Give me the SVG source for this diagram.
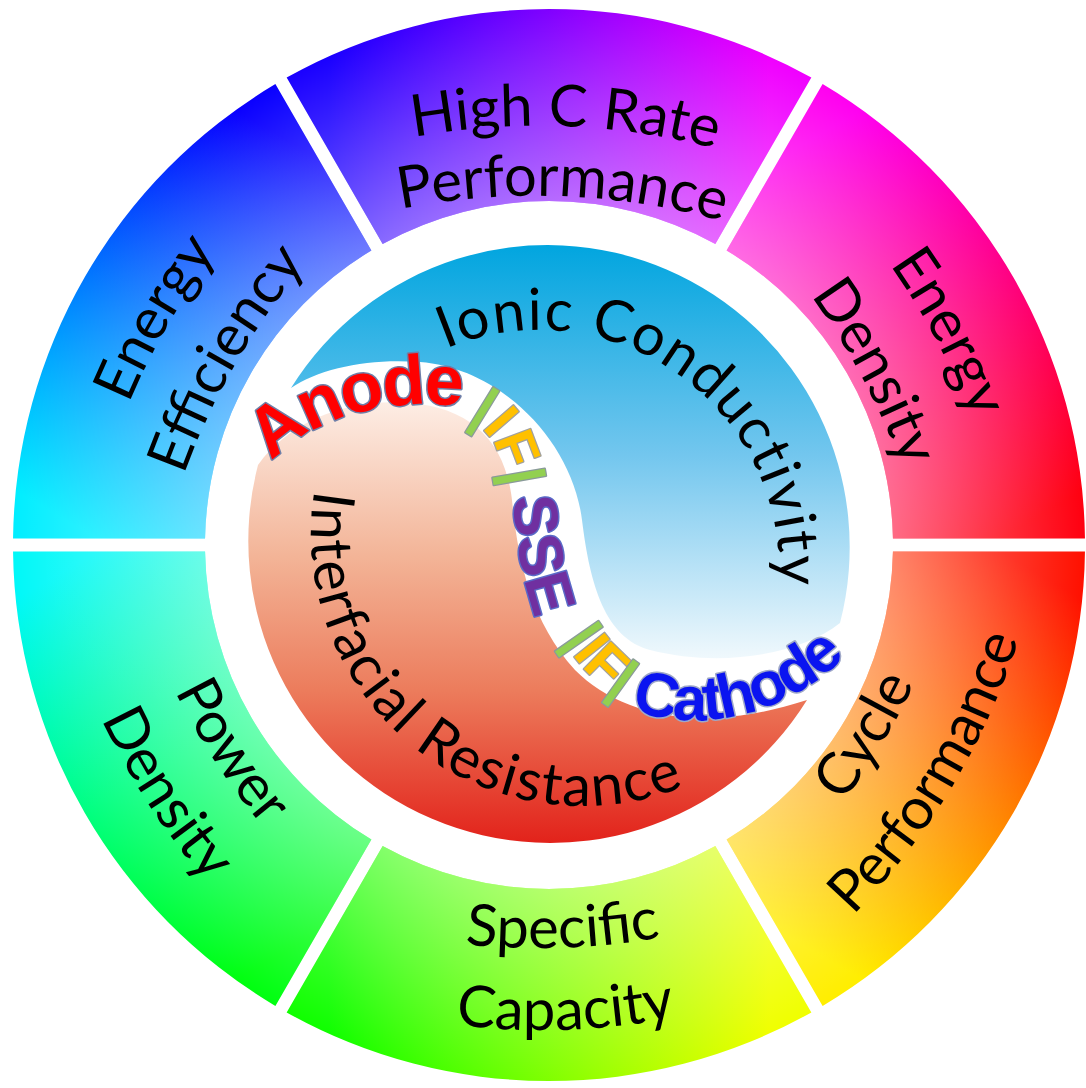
<svg xmlns="http://www.w3.org/2000/svg" width="1086" height="1088" viewBox="0 0 1086 1088">
  <defs>
    <style>
      .lbl { font-family: Lato, "Open Sans", "Liberation Sans", sans-serif; font-size: 58px; fill: #000; }
      .core { font-family: "Liberation Sans", Arial, sans-serif; font-weight: bold; paint-order: stroke; stroke-linejoin: round; }
      .anode { fill: #ff0000; stroke: #6f7fa8; stroke-width: 3; font-size: 70px; letter-spacing: -3px; }
      .bar { fill: #92d050; stroke: #8a9a9a; stroke-width: 2.5; }
      .intf { fill: #ffc000; stroke: #a0a0a0; stroke-width: 2.5; }
      .iface { font-size: 56px; }
      .sse { fill: #7030a0; stroke: #5a6ac8; stroke-width: 3; font-size: 62px; }
      .cath { fill: #0a14f0; stroke: #9fa8c8; stroke-width: 3; font-size: 62px; letter-spacing: -2.5px; }
    </style>

    <!-- white wash that lightens every ring sector toward its inner edge -->
    <radialGradient id="innerWash" gradientUnits="userSpaceOnUse" cx="549" cy="545" r="536">
      <stop offset="0.64" stop-color="#fff" stop-opacity="0.42"/>
      <stop offset="1" stop-color="#fff" stop-opacity="0"/>
    </radialGradient>

    <!-- hue sweeps, one per sector, running clockwise -->
    <linearGradient id="gTop" gradientUnits="userSpaceOnUse" x1="329" y1="164" x2="769" y2="164">
      <stop offset="0" stop-color="#1a00ff"/><stop offset="0.5" stop-color="#8000ff"/><stop offset="1" stop-color="#f000ff"/>
    </linearGradient>
    <linearGradient id="gUR" gradientUnits="userSpaceOnUse" x1="769" y1="164" x2="989" y2="545">
      <stop offset="0" stop-color="#ff00f0"/><stop offset="0.5" stop-color="#ff0080"/><stop offset="1" stop-color="#ff0010"/>
    </linearGradient>
    <linearGradient id="gLR" gradientUnits="userSpaceOnUse" x1="989" y1="545" x2="769" y2="926">
      <stop offset="0" stop-color="#ff1000"/><stop offset="0.5" stop-color="#ff8000"/><stop offset="1" stop-color="#ffee00"/>
    </linearGradient>
    <linearGradient id="gBot" gradientUnits="userSpaceOnUse" x1="769" y1="926" x2="329" y2="926">
      <stop offset="0" stop-color="#f0ff00"/><stop offset="0.5" stop-color="#80ff00"/><stop offset="1" stop-color="#10ff00"/>
    </linearGradient>
    <linearGradient id="gLL" gradientUnits="userSpaceOnUse" x1="329" y1="926" x2="109" y2="545">
      <stop offset="0" stop-color="#00ff10"/><stop offset="0.5" stop-color="#00ff80"/><stop offset="1" stop-color="#00f8f8"/>
    </linearGradient>
    <linearGradient id="gUL" gradientUnits="userSpaceOnUse" x1="109" y1="545" x2="329" y2="164">
      <stop offset="0" stop-color="#00eeff"/><stop offset="0.5" stop-color="#0078ff"/><stop offset="1" stop-color="#0a00ff"/>
    </linearGradient>

    <!-- inner disc fills -->
    <linearGradient id="gBlue" gradientUnits="userSpaceOnUse" x1="0" y1="243" x2="0" y2="665">
      <stop offset="0" stop-color="#00a5df"/><stop offset="0.5" stop-color="#72c6ee"/><stop offset="1" stop-color="#f4fafd"/>
    </linearGradient>
    <linearGradient id="gRed" gradientUnits="userSpaceOnUse" x1="0" y1="400" x2="0" y2="847">
      <stop offset="0" stop-color="#fdeee6"/><stop offset="0.35" stop-color="#f3b497"/><stop offset="0.65" stop-color="#ec7c5c"/><stop offset="1" stop-color="#e22019"/>
    </linearGradient>

    <!-- label baselines, drawn at the top (upper labels) or bottom (lower labels) and rotated into place -->
    <path id="u419" d="M 332.69,160.26 A 700 700 0 0 1 765.31,160.26"/>
    <path id="u349" d="M 332.69,230.26 A 700 700 0 0 1 765.31,230.26"/>
    <path id="u438" d="M 332.69,141.26 A 700 700 0 0 1 765.31,141.26"/>
    <path id="u355" d="M 332.69,224.26 A 700 700 0 0 1 765.31,224.26"/>
    <path id="u440" d="M 332.69,139.26 A 700 700 0 0 1 765.31,139.26"/>
    <path id="u362" d="M 332.69,217.26 A 700 700 0 0 1 765.31,217.26"/>
    <path id="d388" d="M 332.69,898.74 A 700 700 0 0 0 765.31,898.74"/>
    <path id="d470" d="M 332.69,980.74 A 700 700 0 0 0 765.31,980.74"/>
    <path id="d403" d="M 332.69,913.74 A 700 700 0 0 0 765.31,913.74"/>
    <path id="d485" d="M 332.69,995.74 A 700 700 0 0 0 765.31,995.74"/>
    <path id="d398" d="M 332.69,908.74 A 700 700 0 0 0 765.31,908.74"/>
    <path id="d477" d="M 332.69,987.74 A 700 700 0 0 0 765.31,987.74"/>

    <!-- inner disc text baselines -->
    <path id="pIonic" d="M 355.15,415.73 A 240 240 0 0 1 746.85,690"/>
    <path id="pInter" d="M 336.48,419.05 A 272 272 0 0 0 749.4,749.17"/>
    <!-- cell stack baselines, one per layer -->
    <path id="pAnode" d="M 272,462 C 315,415 390,398 458,406"/>
    <path id="pIF1" d="M 468,420 C 487,428 504,448 508,500"/>
    <path id="pSSE" d="M 513,497 C 516,540 522,585 540,630"/>
    <path id="pIF2" d="M 563,641 C 579,665 601,692 637,709"/>
    <path id="pCath" d="M 631,710 C 690,730 772,724 842,660"/>
  </defs>

  <rect width="1086" height="1088" fill="#fff"/>

  <!-- outer ring: six sectors -->
  <g id="ring">
    <g id="seg-high-c-rate">
      <path d="M 286.65,77.59 A 536 536 0 0 1 811.35,77.59 L 715.34,243.89 A 344 344 0 0 0 382.66,243.89 Z" fill="url(#gTop)"/>
      <path d="M 286.65,77.59 A 536 536 0 0 1 811.35,77.59 L 715.34,243.89 A 344 344 0 0 0 382.66,243.89 Z" fill="url(#innerWash)"/>
      <text class="lbl" transform="rotate(2.2 549 545)"><textPath href="#u419" startOffset="50%" text-anchor="middle">High C Rate</textPath></text>
      <text class="lbl" transform="rotate(2.2 549 545)"><textPath href="#u349" startOffset="50%" text-anchor="middle">Performance</textPath></text>
    </g>
    <g id="seg-energy-density">
      <path d="M 822.61,84.09 A 536 536 0 0 1 1084.96,538.5 L 892.94,538.5 A 344 344 0 0 0 726.6,250.39 Z" fill="url(#gUR)"/>
      <path d="M 822.61,84.09 A 536 536 0 0 1 1084.96,538.5 L 892.94,538.5 A 344 344 0 0 0 726.6,250.39 Z" fill="url(#innerWash)"/>
      <text class="lbl" transform="rotate(62 549 545)"><textPath href="#u438" startOffset="50%" text-anchor="middle">Energy</textPath></text>
      <text class="lbl" transform="rotate(62 549 545)"><textPath href="#u355" startOffset="50%" text-anchor="middle">Density</textPath></text>
    </g>
    <g id="seg-cycle-performance">
      <path d="M 1084.96,551.5 A 536 536 0 0 1 822.61,1005.91 L 726.6,839.61 A 344 344 0 0 0 892.94,551.5 Z" fill="url(#gLR)"/>
      <path d="M 1084.96,551.5 A 536 536 0 0 1 822.61,1005.91 L 726.6,839.61 A 344 344 0 0 0 892.94,551.5 Z" fill="url(#innerWash)"/>
      <text class="lbl" transform="rotate(-59 549 545)"><textPath href="#d388" startOffset="50%" text-anchor="middle">Cycle</textPath></text>
      <text class="lbl" transform="rotate(-59 549 545)"><textPath href="#d470" startOffset="50%" text-anchor="middle">Performance</textPath></text>
    </g>
    <g id="seg-specific-capacity">
      <path d="M 811.35,1012.41 A 536 536 0 0 1 286.65,1012.41 L 382.66,846.11 A 344 344 0 0 0 715.34,846.11 Z" fill="url(#gBot)"/>
      <path d="M 811.35,1012.41 A 536 536 0 0 1 286.65,1012.41 L 382.66,846.11 A 344 344 0 0 0 715.34,846.11 Z" fill="url(#innerWash)"/>
      <text class="lbl" transform="rotate(-2 549 545)"><textPath href="#d403" startOffset="50%" text-anchor="middle">Specific</textPath></text>
      <text class="lbl" transform="rotate(-2 549 545)"><textPath href="#d485" startOffset="50%" text-anchor="middle">Capacity</textPath></text>
    </g>
    <g id="seg-power-density">
      <path d="M 275.39,1005.91 A 536 536 0 0 1 13.04,551.5 L 205.06,551.5 A 344 344 0 0 0 371.4,839.61 Z" fill="url(#gLL)"/>
      <path d="M 275.39,1005.91 A 536 536 0 0 1 13.04,551.5 L 205.06,551.5 A 344 344 0 0 0 371.4,839.61 Z" fill="url(#innerWash)"/>
      <text class="lbl" transform="rotate(57 549 545)"><textPath href="#d398" startOffset="50%" text-anchor="middle">Power</textPath></text>
      <text class="lbl" transform="rotate(57 549 545)"><textPath href="#d477" startOffset="50%" text-anchor="middle">Density</textPath></text>
    </g>
    <g id="seg-energy-efficiency">
      <path d="M 13.04,538.5 A 536 536 0 0 1 275.39,84.09 L 371.4,250.39 A 344 344 0 0 0 205.06,538.5 Z" fill="url(#gUL)"/>
      <path d="M 13.04,538.5 A 536 536 0 0 1 275.39,84.09 L 371.4,250.39 A 344 344 0 0 0 205.06,538.5 Z" fill="url(#innerWash)"/>
      <text class="lbl" transform="rotate(-60 549 545)"><textPath href="#u440" startOffset="50%" text-anchor="middle">Energy</textPath></text>
      <text class="lbl" transform="rotate(-60 549 545)"><textPath href="#u362" startOffset="50%" text-anchor="middle">Efficiency</textPath></text>
    </g>
  </g>

  <!-- inner disc: conductive half, resistive half, and the cell stack between them -->
  <g id="core">
    <g id="ionic-conductivity">
      <path d="M 291,388 A 302 302 0 0 1 840,623 C 800,655 720,668 650,650 C 605,638 590,585 582,520 C 572,440 500,368 420,362 C 370,358 320,368 291,388 Z" fill="url(#gBlue)"/>
      <text class="lbl" font-size="66" letter-spacing="1.5" transform="rotate(0.5 539 570)"><textPath href="#pIonic" startOffset="50%" text-anchor="middle">Ionic Conductivity</textPath></text>
    </g>
    <g id="interfacial-resistance">
      <path d="M 807,700 A 302 302 0 0 1 258,465 C 290,420 350,398 410,403 C 470,408 505,440 512,500 C 518,560 530,620 575,670 C 620,715 700,735 807,700 Z" fill="url(#gRed)"/>
      <text class="lbl" font-size="60" letter-spacing="1.8"><textPath href="#pInter" startOffset="50%" text-anchor="middle">Interfacial Resistance</textPath></text>
    </g>
    <g id="cell-stack">
      <text class="core anode"><textPath href="#pAnode">Anode</textPath></text>
      <text class="core iface"><textPath href="#pIF1"><tspan class="bar">|</tspan><tspan class="intf">IF</tspan><tspan class="bar">|</tspan></textPath></text>
      <text class="core sse"><textPath href="#pSSE">SSE</textPath></text>
      <text class="core iface"><textPath href="#pIF2"><tspan class="bar">|</tspan><tspan class="intf">IF</tspan><tspan class="bar">|</tspan></textPath></text>
      <text class="core cath"><textPath href="#pCath">Cathode</textPath></text>
    </g>
  </g>
</svg>
